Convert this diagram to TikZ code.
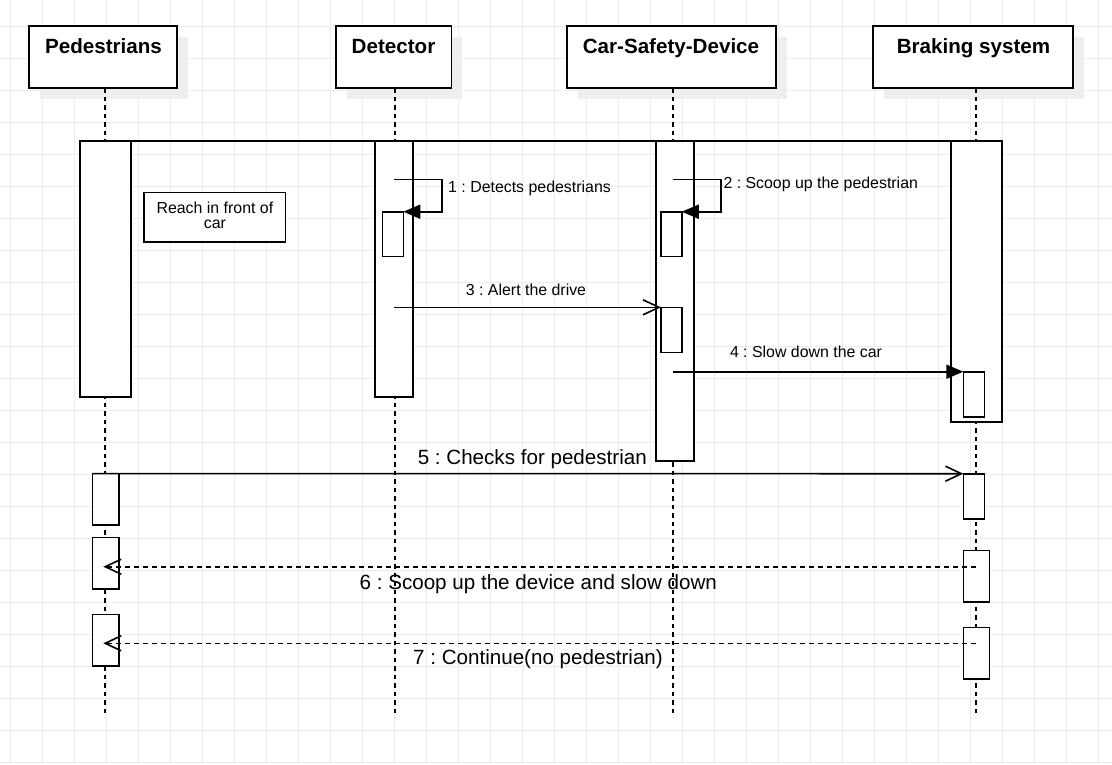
\documentclass[tikz,border=0pt]{standalone}
\usepackage{fontspec}
\setmainfont{Liberation Sans}
\usetikzlibrary{arrows.meta}
\definecolor{gridc}{RGB}{236,236,236}
\definecolor{shadowc}{RGB}{238,238,238}
\tikzset{
  gridline/.style={draw=gridc, line width=1pt},
  hdrbox/.style={draw=black, fill=white, line width=1.7pt, inner sep=0pt, outer sep=0pt, minimum height=62pt},
  hdrshadow/.style={fill=shadowc, draw=none},
  hdrtxt/.style={anchor=base, inner sep=0pt, font=\fontsize{20.6}{24}\selectfont\bfseries},
  lifeline/.style={draw=black, line width=1.6pt, dash pattern=on 4.5pt off 4pt},
  actbox/.style={draw=black, fill=white, line width=1.6pt, inner sep=0pt, outer sep=0pt},
  msg/.style={draw=black, line width=1.6pt},
  retmsg/.style={draw=black, line width=1.6pt, dash pattern=on 5pt off 4pt},
  filledtip/.style={-{Triangle[length=17pt,width=14pt]}},
  opentip/.style={-{Straight Barb[length=16pt,width=15pt]}},
  smalllbl/.style={inner sep=0pt, font=\fontsize{15.9}{19}\selectfont},
  biglbl/.style={anchor=base, inner sep=0pt, font=\fontsize{20.6}{24}\selectfont},
}
\frenchspacing
\begin{document}
\begin{tikzpicture}[x=1pt,y=-1pt]
\useasboundingbox (0,0) rectangle (1112,764);
\fill[white] (0,0) rectangle (1112,764);
% grid
\foreach \i in {0,...,34} \draw[gridline] ({10+32*\i},0) -- ({10+32*\i},764);
\foreach \j in {0,...,23} \draw[gridline] (0,{26+32*\j}) -- (1112,{26+32*\j});

% header shadows
\fill[hdrshadow] (40,37) rectangle (188,99);
\fill[hdrshadow] (347,37) rectangle (462.3,99);
\fill[hdrshadow] (577.7,37) rectangle (786.7,99);
\fill[hdrshadow] (884.3,37) rectangle (1084.3,99);

% header boxes
\node[hdrbox, minimum width=148pt] (hp) at (103,57) {};
\node[hdrbox, minimum width=115.3pt] (hd) at (393.7,57) {};
\node[hdrbox, minimum width=209pt] (hc) at (671.2,57) {};
\node[hdrbox, minimum width=200pt] (hb) at (973.3,57) {};
\node[hdrtxt] (hpt) at (103.5,53.3) {Pedestrians};
\node[hdrtxt] (hdt) at (393.5,53.3) {Detector};
\node[hdrtxt] (hct) at (671,53.3) {Car-Safety-Device};
\node[hdrtxt] (hbt) at (973.5,53.3) {Braking system};

% lifelines
\coordinate (pl) at (105,717);
\coordinate (dl) at (394.8,717);
\coordinate (cl) at (672.7,717);
\coordinate (bl) at (975.7,717);
\draw[lifeline] (hp.south -| pl) -- (pl);
\draw[lifeline] (hd.south -| dl) -- (dl);
\draw[lifeline] (hc.south -| cl) -- (cl);
\draw[lifeline] (hb.south -| bl) -- (bl);

% main activations
\node[actbox, minimum width=51pt, minimum height=256pt] (pa1) at (105.5,269) {};
\node[actbox, minimum width=38pt, minimum height=256pt] (da1) at (394,269) {};
\node[actbox, minimum width=38pt, minimum height=320pt] (ca1) at (675,301) {};
\node[actbox, minimum width=51pt, minimum height=281pt] (ba1) at (976.3,281.5) {};
\draw[msg] (pa1.north west) -- (ba1.north east);

% note box
\node[actbox, minimum width=141.3pt, minimum height=49.7pt] (rb) at (214.7,217.2) {};
\node[smalllbl, anchor=base] (rbt1) at (214.9,213.3) {Reach in front of};
\node[smalllbl, anchor=base] (rbt2) at (214.9,228.3) {car};

% nested activations
\node[actbox, minimum width=21pt, minimum height=44.6pt] (da2) at (392.8,234) {};
\node[actbox, minimum width=20.7pt, minimum height=44.6pt] (ca2) at (671.4,234) {};
\node[actbox, minimum width=21pt, minimum height=45pt] (ca3) at (671.4,329.8) {};
\node[actbox, minimum width=21pt, minimum height=45pt] (ba2) at (973.8,394.2) {};
\node[actbox, minimum width=26.3pt, minimum height=51.3pt] (pa2) at (105.8,499.3) {};
\node[actbox, minimum width=21pt, minimum height=45pt] (ba3) at (973.8,496.2) {};
\node[actbox, minimum width=26.3pt, minimum height=51.3pt] (pa3) at (105.8,563.3) {};
\node[actbox, minimum width=26pt, minimum height=51.7pt] (ba4) at (976.3,576.2) {};
\node[actbox, minimum width=26.3pt, minimum height=51.7pt] (pa4) at (105.8,640.2) {};
\node[actbox, minimum width=26pt, minimum height=51.4pt] (ba5) at (976.3,653) {};

% message 1 (self)
\coordinate (m1s) at (394,179.3);
\draw[msg, filledtip] (m1s) -- ++(48,0) |- (da2.north east);
\node[smalllbl, anchor=base west] (l1) at (448,192.3) {1 : Detects pedestrians};

% message 2 (self)
\coordinate (m2s) at (672.7,179.3);
\draw[msg, filledtip] (m2s) -- ++(48,0) |- (ca2.north east);
\node[smalllbl, anchor=base west] (l2) at (723.3,188.3) {2 : Scoop up the pedestrian};

% message 3
\draw[msg, opentip] (ca3.north west -| m1s) -- (ca3.north west);
\node[smalllbl, anchor=base] (l3) at (526,295) {3 : Alert the drive};

% message 4
\draw[msg, filledtip] (ba2.north west -| cl) -- (ba2.north west);
\node[smalllbl, anchor=base] (l4) at (806,357.7) {4 : Slow down the car};

% message 5
\draw[msg, opentip] (pa2.north west) -- (ba3.north west);
\node[biglbl] (l5) at (532.3,464) {5 : Checks for pedestrian};

% message 6 (return)
\coordinate (m6s) at (975.7,566.7);
\coordinate (m6e) at (103.3,566.7);
\draw[retmsg, opentip] (m6s) -- (m6e);
\node[biglbl] (l6) at (538.3,589) {6 : Scoop up the device and slow down};

% message 7 (return)
\coordinate (m7s) at (975.7,643.3);
\coordinate (m7e) at (103.3,643.3);
\draw[retmsg, opentip] (m7s) -- (m7e);
\node[biglbl] (l7) at (538,664) {7 : Continue(no pedestrian)};
\end{tikzpicture}
\end{document}
